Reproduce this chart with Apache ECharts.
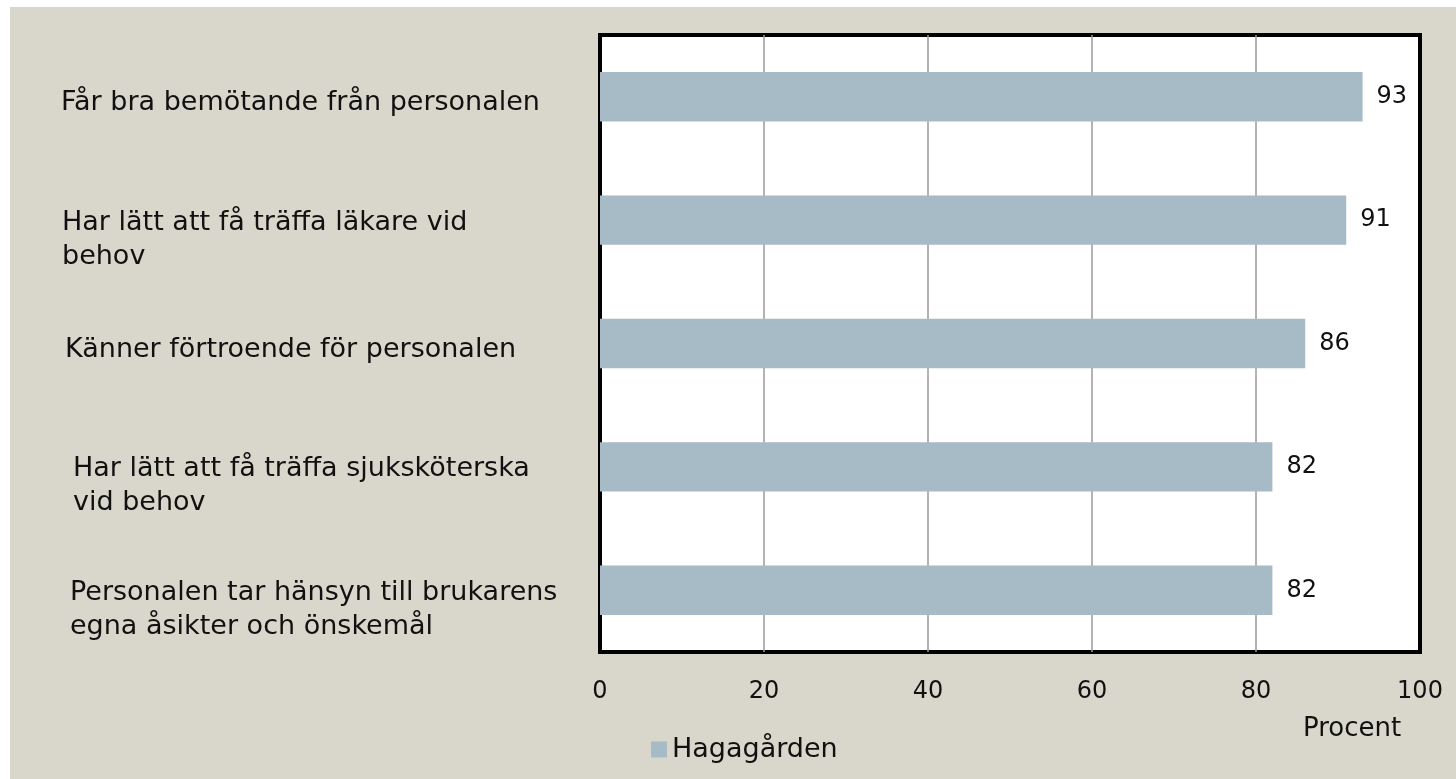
<!DOCTYPE html>
<html>
<head>
<meta charset="utf-8">
<title>Hagagården</title>
<script src="https://cdn.jsdelivr.net/npm/echarts@6/dist/echarts.min.js"></script>
<style>
  html, body { margin: 0; padding: 0; background: #fff; }
  #chart { position: absolute; left: 10px; top: 7px; width: 1446px; height: 772px; }
</style>
</head>
<body>
<div id="chart"></div>
<script>
// kategorier (uppifrån och ned)
const categories = [
  'Får bra bemötande från personalen',
  'Har lätt att få träffa läkare vid\nbehov',
  'Känner förtroende för personalen',
  'Har lätt att få träffa sjuksköterska\nvid behov',
  'Personalen tar hänsyn till brukarens\negna åsikter och önskemål'
]
const values = [93, 91, 86, 82, 82]
const xTicks = [0, 20, 40, 60, 80, 100]
const seriesName = 'Hagagården'
const axisTitle = 'Procent'

// indrag för etiketterna (px), som i originalet
const labelIndent = [0, 2, 5, 13, 10]

const font = 'DejaVu Sans'
const LH = 34

// osynliga "spacer"-tokens ger indrag och flyttar texten lite nedåt
const rich = {
  t: { fontFamily: font, fontSize: 27, color: '#111', lineHeight: LH, verticalAlign: 'bottom' }
}
categories.forEach((c, i) => {
  const twoLines = c.indexOf('\n') >= 0
  const w = Math.max(labelIndent[i], 1)
  rich['a' + i] = { fontSize: 1, lineHeight: twoLines ? 2 * LH - 2 : 39, width: w }
  rich['b' + i] = { fontSize: 1, lineHeight: LH, width: w }
})

const chart = echarts.init(document.getElementById('chart'))

chart.setOption({
  backgroundColor: '#d9d7cb',
  animation: false,
  textStyle: { fontFamily: font, color: '#111' },
  title: {
    text: axisTitle,
    left: 1288,
    top: 704,
    textStyle: { fontFamily: font, fontSize: 26, fontWeight: 'normal', color: '#111' }
  },
  legend: {
    data: [seriesName],
    left: 636,
    top: 724,
    icon: 'rect',
    itemWidth: 16,
    itemHeight: 16,
    itemGap: 6,
    textStyle: { fontFamily: font, fontSize: 27, color: '#111' }
  },
  grid: {
    left: 590,
    top: 28,
    width: 820,
    height: 617,
    show: true,
    backgroundColor: '#fff',
    borderColor: '#000',
    borderWidth: 4
  },
  xAxis: {
    type: 'value',
    min: xTicks[0],
    max: xTicks[xTicks.length - 1],
    interval: 20,
    axisLine: { show: false },
    axisTick: { show: false },
    axisLabel: { fontSize: 24, color: '#111', margin: 28 },
    splitLine: {
      show: true,
      showMinLine: false,
      showMaxLine: false,
      lineStyle: { color: '#9a9a9a', width: 1.5 }
    }
  },
  yAxis: {
    type: 'category',
    inverse: true,
    data: categories,
    axisLine: { show: false },
    axisTick: { show: false },
    axisLabel: {
      fontSize: 27,
      color: '#111',
      align: 'left',
      margin: 540,
      lineHeight: LH,
      formatter: (value, index) => value.split('\n')
        .map((line, k) => '{' + (k === 0 ? 'a' : 'b') + index + '| }{t|' + line + '}')
        .join('\n'),
      rich: rich
    }
  },
  series: [{
    name: seriesName,
    type: 'bar',
    data: values,
    barWidth: '40%',
    itemStyle: { color: '#a6bbc6' },
    label: {
      show: true,
      position: 'right',
      distance: 14,
      fontSize: 24,
      color: '#111'
    }
  }]
})
</script>
</body>
</html>
